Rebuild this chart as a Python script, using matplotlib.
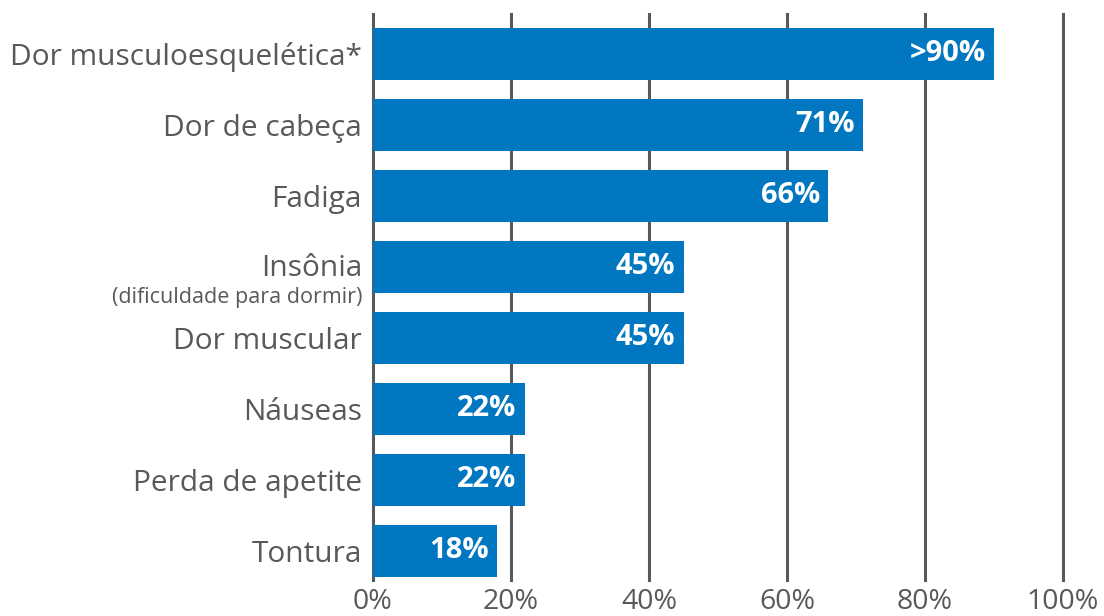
import matplotlib
matplotlib.use("Agg")
import matplotlib.pyplot as plt

# data
categories = ["Dor musculoesquelética*", "Dor de cabeça", "Fadiga", "Insônia",
              "Dor muscular", "Náuseas", "Perda de apetite", "Tontura"]
values = [90, 71, 66, 45, 45, 22, 22, 18]
value_labels = [">90%", "71%", "66%", "45%", "45%", "22%", "22%", "18%"]
x_ticks = [0, 20, 40, 60, 80, 100]
x_tick_labels = ["0%", "20%", "40%", "60%", "80%", "100%"]
insonia_note = "(dificuldade para dormir)"

bar_color = "#0077c0"
grey = "#58595b"

plt.rcParams["font.family"] = ["Open Sans", "DejaVu Sans"]

fig = plt.figure(figsize=(11.04, 6.16), dpi=100)
ax = fig.add_axes([373 / 1104, 1 - 580 / 616, (1063 - 373) / 1104, (580 - 14) / 616])

ypos = list(range(len(categories)))
ax.barh(ypos, values, height=0.73, color=bar_color, zorder=3)

for y, v, lab in zip(ypos, values, value_labels):
    ax.annotate(lab, xy=(v, y), xytext=(-6, 0), textcoords="offset points",
                ha="right", va="center", color="white", fontsize=21,
                fontweight="bold", zorder=4)

ax.set_xlim(0, 100)
ax.set_ylim(7.41, -0.56)
ax.set_xticks(x_ticks)
ax.set_xticklabels(x_tick_labels, fontsize=20.5, color=grey)
ax.tick_params(axis="x", length=0, pad=6)
ax.grid(axis="x", color=grey, linewidth=2.2, zorder=1)
for gl in ax.get_xgridlines():
    gl.set_clip_on(False)
ax.set_axisbelow(True)

ax.set_yticks(ypos)
labels = [c if c != "Insônia" else "" for c in categories]
ax.set_yticklabels(labels, fontsize=21.5, color=grey)
ax.tick_params(axis="y", length=0, pad=8)

# two-line label for Insônia
iy = categories.index("Insônia")
ax.annotate("Insônia", xy=(0, iy), xytext=(-8, -1), textcoords="offset points",
            ha="right", va="center", fontsize=21.5, color=grey)
ax.annotate(insonia_note, xy=(0, iy), xytext=(-8, -22), textcoords="offset points",
            ha="right", va="center", fontsize=15.5, color=grey)

for s in ax.spines.values():
    s.set_visible(False)

fig.savefig("out.png", dpi=100)
